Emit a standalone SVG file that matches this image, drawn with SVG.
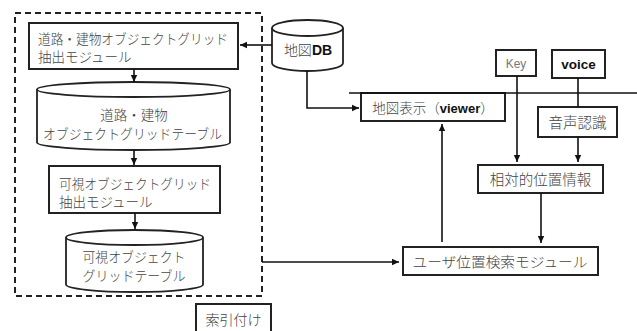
<svg xmlns="http://www.w3.org/2000/svg" width="637" height="331" viewBox="0 0 637 331">
<defs>
<marker id="ah" markerWidth="8" markerHeight="8" refX="7" refY="4" orient="auto" markerUnits="userSpaceOnUse">
<path d="M0,0.8 L7,4 L0,7.2 Z" fill="#111"/>
</marker>
<style>
.box{fill:#fff;stroke:#222;stroke-width:2}
.cyl{fill:#fff;stroke:#222;stroke-width:1.8}
.t{font-family:"Noto Sans CJK JP","Noto Sans",sans-serif;font-size:13.5px;font-weight:300;fill:#444}
.c{text-anchor:middle}
.ln{fill:none;stroke:#111;stroke-width:1.6}
.arr{fill:none;stroke:#111;stroke-width:1.6;marker-end:url(#ah)}
.b{font-family:"Liberation Sans","Noto Sans",sans-serif;font-weight:bold;fill:#111}
</style>
</defs>

<g id="indexing-group">
<rect x="15" y="13" width="247" height="283" fill="none" stroke="#222" stroke-width="2" stroke-dasharray="6,4"/>
</g>

<g id="road-extract">
<rect class="box" x="29" y="23" width="209" height="46"/>
<text class="t" x="38" y="43.5" textLength="190" lengthAdjust="spacingAndGlyphs">道路・建物オブジェクトグリッド</text>
<text class="t" x="38" y="61.5">抽出モジュール</text>
</g>

<g id="road-table">
<path class="cyl" d="M37,89.5 L37,142.5 A96.5,7.5 0 0 0 230,142.5 L230,89.5"/>
<ellipse class="cyl" cx="133.5" cy="89.5" rx="96.5" ry="7.5"/>
<text class="t c" x="134" y="120">道路・建物</text>
<text class="t c" x="132.5" y="138.5" textLength="179" lengthAdjust="spacingAndGlyphs">オブジェクトグリッドテーブル</text>
</g>

<g id="visible-extract">
<rect class="box" x="49" y="166" width="171" height="47"/>
<text class="t" x="59" y="188.5" textLength="152" lengthAdjust="spacingAndGlyphs">可視オブジェクトグリッド</text>
<text class="t" x="59" y="206.5">抽出モジュール</text>
</g>

<g id="visible-table">
<path class="cyl" d="M66,237.5 L66,284.5 A68.5,7.5 0 0 0 203,284.5 L203,237.5"/>
<ellipse class="cyl" cx="134.5" cy="237.5" rx="68.5" ry="7.5"/>
<text class="t c" x="134" y="261.5" textLength="103" lengthAdjust="spacingAndGlyphs">可視オブジェクト</text>
<text class="t c" x="134" y="280.5" textLength="103" lengthAdjust="spacingAndGlyphs">グリッドテーブル</text>
</g>

<g id="indexing-label">
<rect class="box" x="196" y="304" width="75" height="32"/>
<text class="t c" x="233.5" y="324.5" style="font-size:14px">索引付け</text>
</g>

<g id="map-db">
<path class="cyl" d="M272,28 L272,63 A35.5,8 0 0 0 343,63 L343,28"/>
<ellipse class="cyl" cx="307.5" cy="28" rx="35.5" ry="8"/>
<text x="308" y="55" text-anchor="middle" style="font-size:14px"><tspan class="t" style="font-size:14px">地図</tspan><tspan class="b">DB</tspan></text>
</g>

<g id="viewer">
<rect class="box" x="361" y="93" width="144" height="28"/>
<text x="433" y="112.5" text-anchor="middle"><tspan class="t">地図表示（</tspan><tspan class="b" style="font-size:13px">viewer</tspan><tspan class="t">）</tspan></text>
</g>

<g id="key">
<rect class="box" x="496" y="50" width="40" height="26"/>
<text x="516" y="67.5" text-anchor="middle" style="font-family:'Liberation Sans','Noto Sans',sans-serif;font-size:12px;fill:#777">Key</text>
</g>

<g id="voice">
<rect class="box" x="552" y="50" width="53" height="28"/>
<text class="b" x="578.5" y="69" text-anchor="middle" style="font-size:13.5px">voice</text>
</g>

<g id="speech-recognition">
<rect class="box" x="538" y="107" width="79" height="30"/>
<text class="t c" x="577.5" y="128" style="font-size:14.5px">音声認識</text>
</g>

<g id="relative-position">
<rect class="box" x="478" y="165" width="125" height="28"/>
<text class="t c" x="540.5" y="185" style="font-size:14.5px">相対的位置情報</text>
</g>

<g id="user-search">
<rect class="box" x="403" y="247" width="195" height="28"/>
<text class="t c" x="500" y="267" textLength="175" lengthAdjust="spacingAndGlyphs" style="font-size:14px">ユーザ位置検索モジュール</text>
</g>

<g id="connectors">
<line class="arr" x1="134" y1="69" x2="134" y2="82"/>
<line class="arr" x1="134" y1="150" x2="134" y2="165"/>
<line class="arr" x1="135" y1="213" x2="135" y2="229"/>
<line class="arr" x1="272" y1="45" x2="240" y2="45"/>
<polyline class="arr" points="307,71 307,108 359,108"/>
<line class="ln" x1="349" y1="93" x2="637" y2="93"/>
<line class="arr" x1="517" y1="76" x2="517" y2="162"/>
<line class="ln" x1="578" y1="78" x2="578" y2="107"/>
<line class="arr" x1="578" y1="137" x2="578" y2="162"/>
<line class="arr" x1="541" y1="193" x2="541" y2="243"/>
<line class="arr" x1="442" y1="242" x2="442" y2="124"/>
<line class="arr" x1="262" y1="262" x2="399" y2="262"/>
</g>
</svg>
